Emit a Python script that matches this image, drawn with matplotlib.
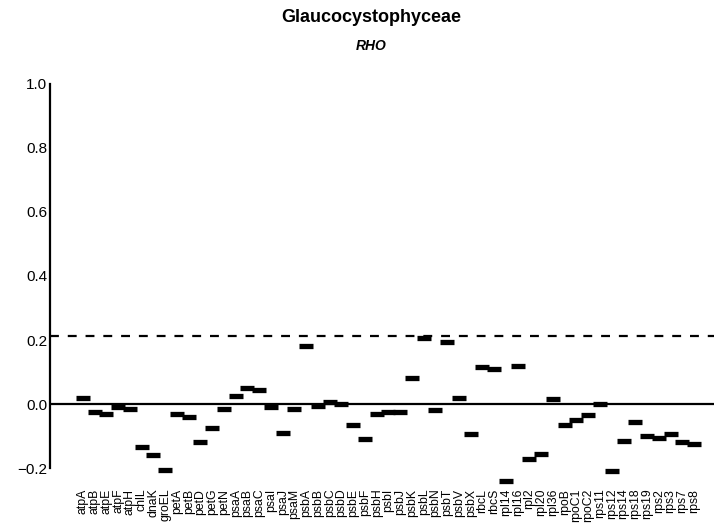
import matplotlib.pyplot as plt
import numpy as np

plt.rcParams['font.family'] = ['Liberation Sans', 'DejaVu Sans']

genes = ['atpA', 'atpB', 'atpE', 'atpF', 'atpH', 'chlL', 'dnaK', 'groEL',
         'petA', 'petB', 'petD', 'petG', 'petN', 'psaA', 'psaB', 'psaC',
         'psaI', 'psaJ', 'psaM', 'psbA', 'psbB', 'psbC', 'psbD', 'psbE',
         'psbF', 'psbH', 'psbI', 'psbJ', 'psbK', 'psbL', 'psbN', 'psbT',
         'psbV', 'psbX', 'rbcL', 'rbcS', 'rpl14', 'rpl16', 'rpl2', 'rpl20',
         'rpl36', 'rpoB', 'rpoC1', 'rpoC2', 'rps11', 'rps12', 'rps14',
         'rps18', 'rps19', 'rps2', 'rps3', 'rps7', 'rps8']

rho = [0.02, -0.025, -0.03, -0.01, -0.015, -0.135, -0.16, -0.205,
       -0.03, -0.04, -0.12, -0.075, -0.015, 0.025, 0.05, 0.045,
       -0.01, -0.09, -0.015, 0.18, -0.005, 0.005, 0.0, -0.065,
       -0.11, -0.03, -0.025, -0.025, 0.08, 0.205, -0.02, 0.195,
       0.02, -0.095, 0.115, 0.11, -0.24, 0.12, -0.17, -0.155,
       0.015, -0.065, -0.05, -0.035, 0.0, -0.21, -0.115,
       -0.055, -0.1, -0.105, -0.095, -0.12, -0.125]

threshold = 0.213
yticks = [-0.2, 0.0, 0.2, 0.4, 0.6, 0.8, 1.0]

fig = plt.figure(figsize=(7.14, 5.24), dpi=100)
ax = fig.add_axes([0.07, 0.07, 0.93, 0.77])

x = np.arange(len(genes))
ax.axhline(0, color='black', lw=1.6, zorder=1)
ax.axhline(threshold, color='black', lw=1.6, ls=(0, (4, 4)), zorder=1)
ax.plot(x, rho, ls='none', marker='_', ms=10, mew=3.8, color='black', zorder=3)

ax.set_xlim(-2.8, len(genes) - 1 + 1.7)
ax.set_ylim(-0.26, 1.0)
ax.set_yticks(yticks)
ax.set_yticklabels(['\u22120.2', '0.0', '0.2', '0.4', '0.6', '0.8', '1.0'], fontsize=11)
ax.set_xticks(x)
ax.set_xticklabels(genes, rotation=90, fontsize=8.8)
ax.tick_params(axis='y', length=0, pad=2)
ax.tick_params(axis='x', length=0, pad=1)

for s in ['top', 'right', 'bottom']:
    ax.spines[s].set_visible(False)
ax.spines['left'].set_bounds(-0.2, 1.0)
ax.spines['left'].set_linewidth(1.6)

fig.text(0.52, 0.966, 'Glaucocystophyceae', ha='center', va='center',
         fontsize=13, fontweight='bold')
fig.text(0.52, 0.913, 'RHO', ha='center', va='center',
         fontsize=10, fontweight='bold', style='italic')

fig.savefig('out.png', dpi=100)
